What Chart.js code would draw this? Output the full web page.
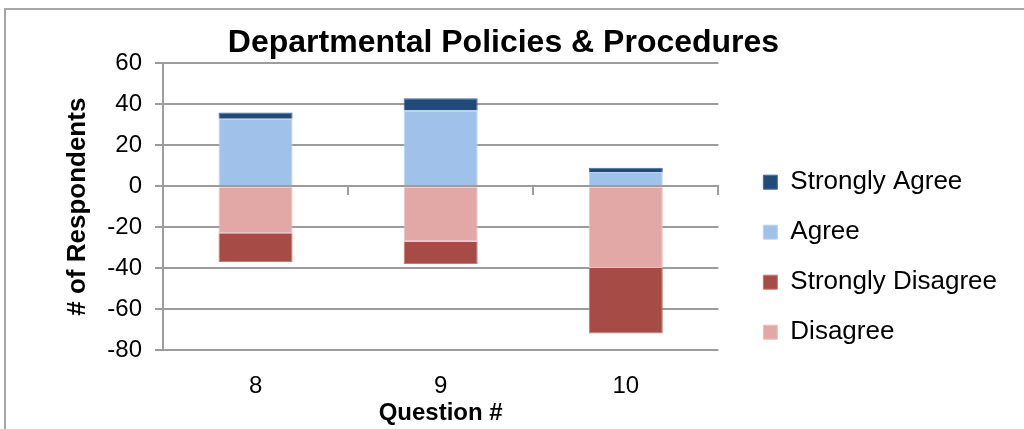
<!DOCTYPE html>
<html>
<head>
<meta charset="utf-8">
<title>Departmental Policies &amp; Procedures</title>
<script src="https://cdn.jsdelivr.net/npm/chart.js@4/dist/chart.umd.min.js"></script>
<style>
  html, body { margin: 0; padding: 0; background: #ffffff; }
  #wrap { width: 1024px; height: 429px; }
</style>
</head>
<body>
<div id="wrap"><canvas id="chart" width="1024" height="429"></canvas></div>
<script>
// Survey responses per question (disagreement counts stored as negatives)
const questions = ['8', '9', '10'];
const stronglyAgree = [3, 6, 2];
const agree = [33, 37, 7];
const disagree = [-23, -27, -40];
const stronglyDisagree = [-14, -11, -32];
const yTicks = [-80, -60, -40, -20, 0, 20, 40, 60];

const FONT = "'Liberation Sans', Arial, sans-serif";
const GRID = '#9c9c9c';

// White background plus the thin frame along the top and left edges
const framePlugin = {
  id: 'frame',
  beforeDraw(chart) {
    const ctx = chart.ctx;
    ctx.save();
    ctx.fillStyle = '#ffffff';
    ctx.fillRect(0, 0, chart.width, chart.height);
    ctx.strokeStyle = '#a6a6a6';
    ctx.lineWidth = 2;
    ctx.beginPath();
    ctx.moveTo(5, chart.height + 2);
    ctx.lineTo(5, 9);
    ctx.lineTo(chart.width + 2, 9);
    ctx.stroke();
    ctx.restore();
  }
};

new Chart(document.getElementById('chart'), {
  type: 'bar',
  data: {
    labels: questions,
    datasets: [
      { label: 'Disagree', data: disagree, backgroundColor: '#E2A8A6', borderColor: '#EBC0BE', borderWidth: 1 },
      { label: 'Strongly Disagree', data: stronglyDisagree, backgroundColor: '#A64B45', borderColor: '#C27B76', borderWidth: 1 },
      { label: 'Agree', data: agree, backgroundColor: '#A0C2EA', borderColor: '#BCD4F0', borderWidth: 1 },
      { label: 'Strongly Agree', data: stronglyAgree, backgroundColor: '#1F4A7A', borderColor: '#4A6D96', borderWidth: 1 }
    ]
  },
  options: {
    responsive: false,
    animation: false,
    devicePixelRatio: 1,
    barPercentage: 0.4,
    categoryPercentage: 1.0,
    layout: { padding: { left: 0, right: 17, top: 0, bottom: 0 } },
    plugins: {
      title: {
        display: true,
        text: 'Departmental Policies & Procedures',
        color: '#000000',
        font: { family: FONT, size: 32, weight: 'bold' },
        padding: { top: 24, bottom: 1 }
      },
      legend: {
        position: 'right',
        reverse: true,
        maxWidth: 400,
        title: { display: true, text: '', font: { family: FONT, size: 12 }, padding: { top: 35, bottom: 36 } },
        labels: {
          boxWidth: 14,
          boxHeight: 14,
          padding: 24,
          color: '#000000',
          font: { family: FONT, size: 26 }
        }
      },
      tooltip: { enabled: false }
    },
    scales: {
      x: {
        stacked: true,
        position: 'bottom',
        grid: { display: false, drawTicks: false },
        border: { display: false },
        ticks: { color: '#000000', font: { family: FONT, size: 24 }, padding: 22 },
        title: {
          display: true,
          text: 'Question #',
          color: '#000000',
          font: { family: FONT, size: 24, weight: 'bold' },
          padding: { top: 0, bottom: 1 }
        },
        afterFit(scale) { scale.height = 79; }
      },
      xZero: {
        type: 'category',
        position: { y: 0 },
        offset: true,
        grid: { display: true, offset: true, drawOnChartArea: false, drawTicks: true, tickLength: 8, color: GRID, lineWidth: 2 },
        border: { display: true, color: GRID, width: 2 },
        ticks: { display: false }
      },
      y: {
        stacked: true,
        min: -80,
        max: 60,
        afterBuildTicks(scale) { scale.ticks = yTicks.map(v => ({ value: v })); },
        grid: { color: GRID, lineWidth: 2, tickLength: 8 },
        border: { display: true, color: GRID, width: 2 },
        ticks: { color: '#000000', font: { family: FONT, size: 24 }, padding: 13 },
        title: {
          display: true,
          text: '# of Respondents',
          color: '#000000',
          font: { family: FONT, size: 26, weight: 'bold' },
          padding: { top: 62, bottom: 0 }
        },
        afterFit(scale) { scale.width = 163; }
      },
      gap: {
        type: 'linear',
        position: 'right',
        grid: { display: false, drawTicks: false },
        border: { display: false },
        ticks: { display: false },
        afterFit(scale) { scale.width = 21; }
      }
    }
  },
  plugins: [framePlugin]
});
</script>
</body>
</html>
